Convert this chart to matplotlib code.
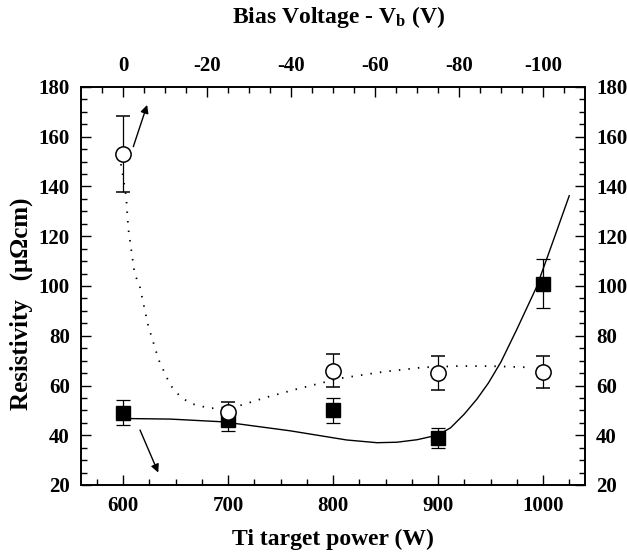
import matplotlib
matplotlib.use("Agg")
import matplotlib.pyplot as plt

plt.rcParams['font.family'] = ['Liberation Serif', 'DejaVu Serif']
plt.rcParams['font.weight'] = 'bold'
plt.rcParams['axes.unicode_minus'] = False
plt.rcParams['mathtext.fontset'] = 'custom'
plt.rcParams['mathtext.rm'] = 'Liberation Serif:bold'
plt.rcParams['mathtext.it'] = 'Liberation Serif:bold'
plt.rcParams['mathtext.bf'] = 'Liberation Serif:bold'

# ---- data ----
power = [600, 700, 800, 900, 1000]
res_power = [49, 46, 50, 39, 101]
err_power = [5, 4.2, 5, 4, 10]

bias = [0, -25, -50, -75, -100]
res_bias = [153, 49.4, 66, 65, 65.5]
err_bias = [15.2, 4, 6.6, 7, 6.5]

fit_power_x = [607, 645, 695, 759, 813, 842, 861, 880, 900, 912, 925, 937, 948,
               960, 975, 994, 1010, 1025]
fit_power_y = [46.7, 46.5, 45.4, 41.8, 38.1, 37.0, 37.2, 38.2, 40.1, 43.0, 48.5,
               54.5, 61.0, 69.5, 82.5, 99.7, 118.5, 136.3]

fit_bias_px = [598, 600, 603, 605, 611, 616, 624, 634, 645, 654, 664, 683, 708,
               737, 765, 807, 848, 886, 918, 950, 986]
fit_bias_y = [149, 144, 136, 123.2, 105.1, 99.7, 84, 70.3, 60.2, 55.8, 52.8, 50.8,
              51.5, 55.3, 58.5, 62.9, 65.5, 67.3, 67.8, 67.8, 67.3]

x_ticks = [600, 700, 800, 900, 1000]
top_ticks = [0, -20, -40, -60, -80, -100]
y_ticks = [20, 40, 60, 80, 100, 120, 140, 160, 180]

fig = plt.figure(figsize=(6.27, 5.55), dpi=100)
ax = fig.add_axes([81/627, 1-485/555, (585-81)/627, (485-87)/555])

ax.set_xlim(560, 1040)
ax.set_ylim(20, 180)

# squares (bottom axis)
ax.errorbar(power, res_power, yerr=err_power, fmt='s', color='black',
            markersize=10, mfc='black', mec='black', ecolor='black',
            elinewidth=0.9, capsize=5, capthick=0.9, zorder=3)
ax.plot(fit_power_x, fit_power_y, '-', color='black', lw=1.0, zorder=4)
ax.plot(fit_bias_px, fit_bias_y, color='black', lw=1.3,
        linestyle=(0, (0.8, 4.5)), zorder=6)

ax.set_xticks(x_ticks)
ax.set_xticks(range(575, 1040, 25), minor=True)
ax.set_yticks(y_ticks)
ax.set_yticks(range(25, 180, 5), minor=True)
ax.tick_params(which='both', direction='in', top=False, right=True,
               labelright=True, width=1.0)
ax.tick_params(which='major', length=7, labelsize=15, pad=8)
ax.tick_params(which='minor', length=4)
for s in ax.spines.values():
    s.set_linewidth(1.2)

ax.set_xlabel('Ti target power (W)', fontsize=17, fontweight='bold', labelpad=9)
fig.text(21/627, 1-304/555, 'Resistivity   (\u03bc\u03a9cm)', rotation=90,
         fontsize=18, fontweight='bold', ha='center', va='center')

# arrows
ax.annotate('', xy=(623, 172.8), xytext=(609.8, 156.0),
            arrowprops=dict(arrowstyle='-|>', color='black', lw=1.0,
                            mutation_scale=12, shrinkA=0, shrinkB=0))
ax.annotate('', xy=(633.6, 25.0), xytext=(616.2, 42.1),
            arrowprops=dict(arrowstyle='-|>', color='black', lw=1.0,
                            mutation_scale=12, shrinkA=0, shrinkB=0))

# top axis (bias voltage)
ax2 = ax.twiny()
ax2.set_xlim(10, -110)
ax2.errorbar(bias, res_bias, yerr=err_bias, fmt='o', color='black',
             markersize=11, mfc='white', mec='black', mew=1.1, ecolor='black',
             elinewidth=0.9, capsize=5, capthick=0.9, zorder=3)
ax2.set_xticks(top_ticks)
ax2.set_xticks(range(5, -110, -5), minor=True)
ax2.tick_params(which='both', direction='in', width=1.0)
ax2.tick_params(which='major', length=7, labelsize=15, pad=8)
ax2.tick_params(which='minor', length=4)
for s in ax2.spines.values():
    s.set_linewidth(1.2)

fig.text(0.54, 1-17/555, r'Bias Voltage - V$_{\mathrm{b}}$ (V)', fontsize=17,
         fontweight='bold', ha='center', va='center')

fig.savefig('out.png', dpi=100)
